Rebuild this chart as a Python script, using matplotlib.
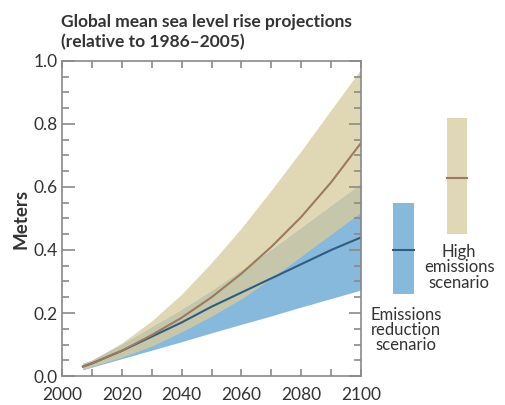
import numpy as np
import matplotlib.pyplot as plt
from matplotlib.ticker import MultipleLocator

plt.rcParams['font.family'] = ['Lato', 'DejaVu Sans']

# projected global mean sea level rise (m), relative to 1986-2005
years = [2007, 2010, 2020, 2030, 2040, 2050, 2060, 2070, 2080, 2090, 2100]
high_mid = [0.03, 0.04, 0.08, 0.13, 0.185, 0.25, 0.325, 0.41, 0.505, 0.615, 0.74]
high_hi = [0.04, 0.05, 0.105, 0.175, 0.26, 0.36, 0.47, 0.59, 0.715, 0.845, 0.975]
high_lo = [0.02, 0.03, 0.06, 0.095, 0.14, 0.19, 0.245, 0.31, 0.38, 0.45, 0.52]
low_mid = [0.03, 0.04, 0.08, 0.125, 0.17, 0.22, 0.265, 0.31, 0.355, 0.40, 0.44]
low_hi = [0.04, 0.05, 0.10, 0.155, 0.21, 0.27, 0.335, 0.40, 0.47, 0.54, 0.61]
low_lo = [0.02, 0.028, 0.055, 0.082, 0.109, 0.137, 0.164, 0.191, 0.219, 0.246, 0.273]

# 2081-2100 averages shown as bars beside the chart
bar_low = [0.26, 0.40, 0.55]   # lower, median, upper
bar_high = [0.45, 0.63, 0.82]

tan = '#e0d8b5'
blue = '#86b9db'
overlap = '#c6c7aa'
brown = '#9c7a5e'
navy = '#2f5d80'
grey = '#8a8a8a'
txt = '#333333'

yrs = np.array(years)
hm, hh, hl = np.array(high_mid), np.array(high_hi), np.array(high_lo)
lm, lh, ll = np.array(low_mid), np.array(low_hi), np.array(low_lo)

fig = plt.figure(figsize=(5.05, 4.05), dpi=100)
ax = fig.add_axes([0.1228, 0.0716, 0.5921, 0.7778])

ax.fill_between(yrs, hl, hh, color=tan, lw=0)
ax.fill_between(yrs, ll, lh, color=blue, lw=0)
ax.fill_between(yrs, np.maximum(hl, ll), np.minimum(hh, lh), color=overlap, lw=0)
ax.plot(yrs, lm, color=navy, lw=1.5)
ax.plot(yrs, hm, color=brown, lw=1.5)

# side bars
ax.bar(2114.2, bar_low[2] - bar_low[0], bottom=bar_low[0], width=7,
       color=blue, clip_on=False)
ax.plot([2110.7, 2117.7], [bar_low[1]] * 2, color=navy, lw=1.5, clip_on=False)
ax.bar(2132.2, bar_high[2] - bar_high[0], bottom=bar_high[0], width=6.7,
       color=tan, clip_on=False)
ax.plot([2128.8, 2135.6], [bar_high[1]] * 2, color=brown, lw=1.5, clip_on=False)

ax.text(2132.8, 0.345, 'High\nemissions\nscenario', ha='center', va='center',
        fontsize=12, color=txt, linespacing=0.95)
ax.text(2115, 0.146, 'Emissions\nreduction\nscenario', ha='center', va='center',
        fontsize=12, color=txt, linespacing=0.95)

ax.set_xlim(2000, 2100)
ax.set_ylim(0, 1.0)
ax.xaxis.set_major_locator(MultipleLocator(20))
ax.xaxis.set_minor_locator(MultipleLocator(10))
ax.yaxis.set_major_locator(MultipleLocator(0.2))
ax.yaxis.set_minor_locator(MultipleLocator(0.05))
ax.yaxis.set_major_formatter(lambda v, p: f'{v:.1f}')

for s in ax.spines.values():
    s.set_color(grey)
    s.set_linewidth(1.2)
ax.tick_params(which='both', direction='in', top=True, right=True,
               color=grey, width=1.2, labelcolor=txt, labelsize=12.5)
ax.tick_params(axis='y', which='major', length=9, pad=3)
ax.tick_params(axis='y', which='minor', length=5)
ax.tick_params(axis='x', which='both', length=5, pad=8)

ax.set_ylabel('Meters', fontsize=13.5, fontweight='bold', color=txt, labelpad=3)

fig.text(0.121, 1 - 27 / 405, 'Global mean sea level rise projections',
         fontsize=12.5, fontweight='bold', color=txt, va='baseline')
fig.text(0.121, 1 - 47 / 405, '(relative to 1986\u20132005)',
         fontsize=12.5, fontweight='bold', color=txt, va='baseline')

fig.savefig('out.png', dpi=100)
